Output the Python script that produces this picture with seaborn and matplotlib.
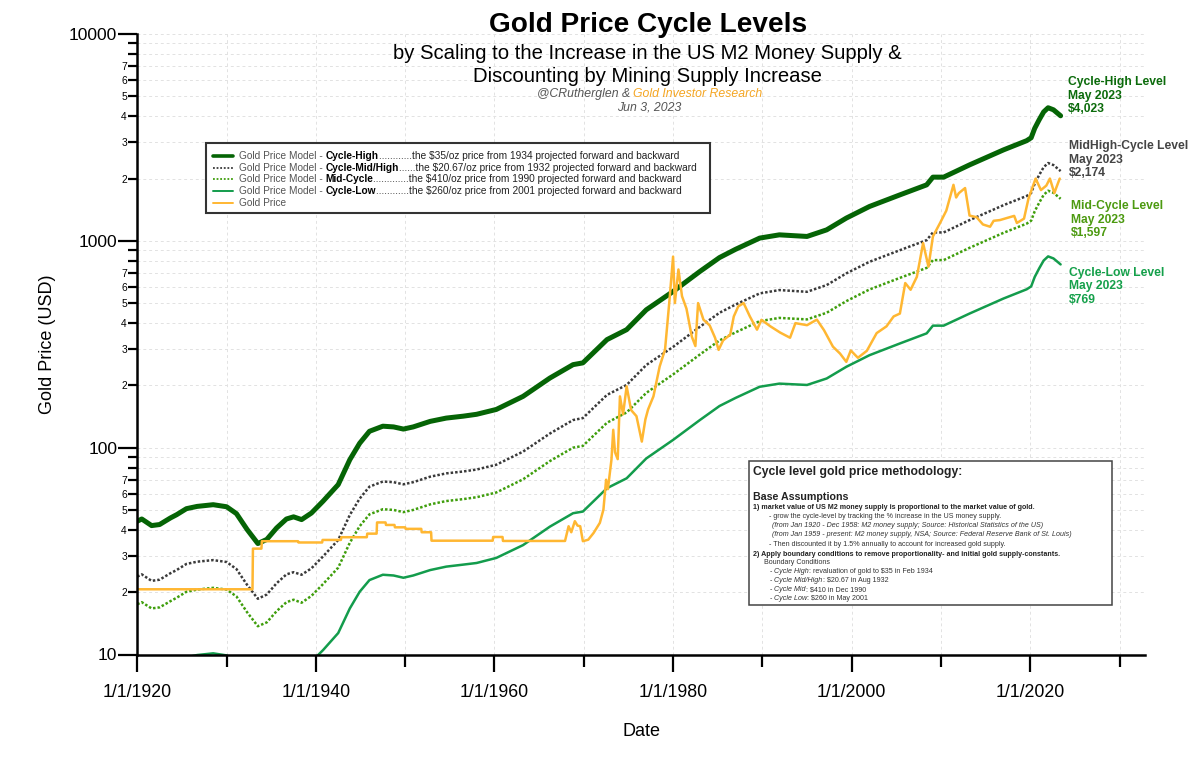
import matplotlib
matplotlib.use("Agg")
import matplotlib.pyplot as plt
import numpy as np
import pandas as pd
import seaborn as sns
from matplotlib.lines import Line2D
from matplotlib.patches import Rectangle
from matplotlib.ticker import FixedLocator, FuncFormatter

# ---------------- data ----------------
model_years = [1920.0, 1920.5, 1921.6, 1922.5, 1923.7, 1924.4, 1925.5, 1926.7, 1928.5, 1930.0,
               1931.1, 1932.3, 1933.5, 1934.5, 1935.6, 1936.7, 1937.5, 1938.4, 1939.5, 1940.8,
               1942.5, 1943.8, 1944.9, 1946.0, 1947.5, 1948.7, 1949.8, 1950.9, 1952.8, 1954.6,
               1956.5, 1958.0, 1960.2, 1963.2, 1966.2, 1968.8, 1969.9, 1972.6, 1974.8, 1977.0,
               1980.0, 1983.0, 1985.2, 1987.0, 1989.7, 1991.9, 1995.0, 1997.2, 1999.4, 2002.0,
               2005.4, 2008.4, 2009.1, 2010.3, 2013.2, 2017.0, 2019.6, 2020.1, 2020.5, 2021.0,
               2021.5, 2022.0, 2022.6, 2023.4]

cycle_high = [44.1, 45.2, 42.0, 42.5, 45.7, 47.4, 50.7, 52.0, 53.0, 51.8,
              48.0, 40.2, 34.4, 36.0, 40.9, 45.2, 46.3, 44.9, 48.3, 55.1,
              66.3, 87.5, 105, 120, 127, 126, 123, 126, 134, 139,
              142, 145, 153, 177, 217, 252, 257, 333, 372, 464,
              569, 711, 830, 910, 1031, 1069, 1050, 1130, 1288, 1466,
              1668, 1865, 2032, 2032, 2329, 2752, 3050, 3150, 3500, 3850,
              4200, 4400, 4300, 4023]

cycle_midhigh = [23.8, 24.4, 22.7, 23.0, 24.7, 25.6, 27.4, 28.1, 28.6, 28.0,
                 25.9, 21.7, 18.6, 19.5, 22.1, 24.4, 25.0, 24.3, 26.1, 29.8,
                 35.8, 47.3, 56.7, 64.8, 68.6, 68.1, 66.5, 68.1, 72.4, 75.1,
                 76.7, 78.4, 82.7, 95.7, 117, 136, 139, 180, 201, 251,
                 307, 384, 449, 492, 557, 578, 567, 611, 696, 792,
                 901, 1008, 1098, 1098, 1259, 1487, 1648, 1702, 1891, 2081,
                 2270, 2378, 2324, 2174]

cycle_mid = [17.5, 17.9, 16.7, 16.9, 18.1, 18.8, 20.1, 20.6, 21.0, 20.6,
             19.1, 16.0, 13.7, 14.3, 16.2, 17.9, 18.4, 17.8, 19.2, 21.9,
             26.3, 34.7, 41.7, 47.6, 50.4, 50.0, 48.8, 50.0, 53.2, 55.2,
             56.4, 57.6, 60.7, 70.3, 86.1, 100, 102, 132, 148, 184,
             226, 282, 330, 361, 409, 424, 417, 449, 511, 582,
             662, 740, 807, 807, 925, 1093, 1211, 1251, 1390, 1528,
             1667, 1747, 1707, 1597]

cycle_low = [8.43, 8.64, 8.03, 8.13, 8.74, 9.06, 9.69, 9.94, 10.13, 9.90,
             9.18, 7.69, 6.58, 6.88, 7.82, 8.64, 8.85, 8.58, 9.23, 10.5,
             12.7, 16.7, 20.1, 22.9, 24.3, 24.1, 23.5, 24.1, 25.6, 26.6,
             27.2, 27.7, 29.3, 33.8, 41.5, 48.2, 49.1, 63.7, 71.1, 88.7,
             109, 136, 159, 174, 197, 204, 201, 216, 246, 280,
             319, 357, 389, 389, 445, 526, 583, 602, 669, 736,
             803, 841, 822, 769]

gold_years = [1920.0, 1932.9, 1932.95, 1933.9, 1933.95, 1938.0, 1938.05, 1940.7, 1940.75, 1942.8,
              1942.85, 1945.7, 1945.75, 1946.8, 1946.85, 1947.8, 1947.85, 1948.8, 1948.85, 1950.0,
              1950.05, 1951.8, 1951.85, 1952.9, 1952.95, 1959.8, 1959.85, 1960.9, 1960.95, 1967.9,
              1968.3, 1968.6, 1969.0, 1969.3, 1969.6, 1969.9, 1970.5, 1971.1, 1971.8, 1972.2,
              1972.5, 1972.7, 1973.1, 1973.3, 1973.5, 1973.8, 1974.05, 1974.4, 1974.8, 1975.3,
              1975.9, 1976.5, 1976.9, 1977.2, 1977.8, 1978.5, 1979.1, 1979.6, 1980.0, 1980.2,
              1980.6, 1981.0, 1981.5, 1982.1, 1982.5, 1982.8, 1983.4, 1984.1, 1984.7, 1985.1,
              1985.6, 1986.4, 1986.8, 1987.3, 1987.9, 1988.6, 1989.4, 1989.9, 1990.9, 1992.0,
              1993.1, 1993.7, 1995.0, 1996.1, 1996.9, 1997.9, 1998.7, 1999.4, 1999.9, 2000.7,
              2001.7, 2002.8, 2003.9, 2004.7, 2005.4, 2006.0, 2006.6, 2007.3, 2008.0, 2008.6,
              2009.1, 2009.9, 2010.6, 2011.4, 2011.7, 2012.0, 2012.7, 2013.2, 2014.0, 2014.7,
              2015.5, 2015.9, 2016.6, 2017.4, 2018.2, 2018.5, 2019.3, 2019.8, 2020.6, 2021.2,
              2021.8, 2022.2, 2022.7, 2022.9, 2023.3]

gold_price = [20.67, 20.67, 32.5, 32.5, 35.3, 35.3, 34.8, 34.8, 35.8, 35.8,
              36.9, 36.9, 38.4, 38.4, 43.5, 43.5, 42.3, 42.3, 41.2, 41.2,
              40.5, 40.5, 39.0, 39.0, 35.5, 35.5, 37.0, 37.0, 35.4, 35.4,
              41.7, 39.0, 44.1, 42.0, 41.7, 35.3, 35.9, 38.7, 43.3, 50.2,
              70.0, 63.0, 87.5, 122, 95, 88, 177, 145, 198, 152,
              142, 107, 137, 153, 177, 247, 298, 518, 839, 500,
              727, 540, 470, 344, 310, 500, 416, 390, 340, 297,
              330, 352, 431, 482, 500, 431, 372, 415, 386, 360,
              340, 400, 391, 416, 370, 308, 285, 260, 295, 272,
              294, 358, 386, 431, 445, 625, 580, 670, 975, 750,
              1050, 1220, 1400, 1865, 1620, 1700, 1800, 1325, 1300, 1200,
              1170, 1250, 1260, 1290, 1320, 1220, 1280, 1600, 2000, 1760,
              1850, 2000, 1700, 1800, 2000]

x_major = [1920, 1940, 1960, 1980, 2000, 2020]
x_major_labels = ["1/1/1920", "1/1/1940", "1/1/1960", "1/1/1980", "1/1/2000", "1/1/2020"]
x_minor = [1930, 1950, 1970, 1990, 2010, 2030]
y_major = [10, 100, 1000, 10000]
y_minor_mult = [2, 3, 4, 5, 6, 7, 8, 9]
y_minor_labelled = [2, 3, 4, 5, 6, 7]

legend_bold = ["Cycle-High", "Cycle-Mid/High", "Mid-Cycle", "Cycle-Low"]
legend_tail = ["............the $35/oz price from 1934 projected forward and backward",
               "......the $20.67/oz price from 1932 projected forward and backward",
               ".............the $410/oz price from 1990 projected forward and backward",
               "............the $260/oz price from 2001 projected forward and backward"]

end_labels = [("Cycle-High Level", "May 2023", "$4,023"),
              ("MidHigh-Cycle Level", "May 2023", "$2,174"),
              ("Mid-Cycle Level", "May 2023", "$1,597"),
              ("Cycle-Low Level", "May 2023", "$769")]

# ---------------- style ----------------
sns.set_style("ticks")
plt.rcParams["font.family"] = ["Liberation Sans", "DejaVu Sans"]
plt.rcParams["text.parse_math"] = False

W, H = 1200, 758
fig = plt.figure(figsize=(12, 7.58), dpi=100)
fig.patch.set_facecolor("white")
ax = fig.add_axes([137.3 / W, 1 - 654.5 / H, (1145 - 137.3) / W, 620.5 / H])


def fy(py):
    return 1 - py / H


C_HIGH = "#056405"
C_MIDHIGH = "#3a3a3a"
C_MID = "#3f9e0c"
C_LOW = "#139c4c"
C_GOLD = "#ffb732"
DOT = (0, (1, 0.8))

styles = [
    (cycle_high, C_HIGH, 3.6, "-"),
    (cycle_midhigh, C_MIDHIGH, 1.8, DOT),
    (cycle_mid, C_MID, 1.8, DOT),
    (cycle_low, C_LOW, 1.8, "-"),
]
for vals, col, lw, ls in styles:
    df = pd.DataFrame({"year": model_years, "price": vals})
    sns.lineplot(data=df, x="year", y="price", ax=ax, estimator=None, sort=False,
                 color=col, linewidth=lw, linestyle=ls)

gdf = pd.DataFrame({"year": gold_years, "price": gold_price})
sns.lineplot(data=gdf, x="year", y="price", ax=ax, estimator=None, sort=False,
             color=C_GOLD, linewidth=1.8, linestyle="-")

ax.set_yscale("log")
ax.set_ylim(10, 10000)
ax.set_xlim(1920, 2032.85)

ax.yaxis.set_major_locator(FixedLocator(y_major))
ax.yaxis.set_major_formatter(FuncFormatter(lambda v, p: f"{v:.0f}"))
minor_locs = [m * 10 ** e for e in (1, 2, 3) for m in y_minor_mult]
ax.yaxis.set_minor_locator(FixedLocator(minor_locs))


def minor_fmt(v, p):
    m = int(round(v / 10 ** np.floor(np.log10(v) + 1e-9)))
    return str(m) if m in y_minor_labelled else ""


ax.yaxis.set_minor_formatter(FuncFormatter(minor_fmt))

ax.set_xticks(x_major)
ax.set_xticklabels(x_major_labels)
ax.set_xticks(x_minor, minor=True)

ax.set_axisbelow(True)
ax.grid(True, which="both", axis="both", color="#e2e2e2", linestyle=(0, (3, 3)), linewidth=0.7)

for s in ["top", "right"]:
    ax.spines[s].set_visible(False)
for s in ["left", "bottom"]:
    ax.spines[s].set_linewidth(1.8)
    ax.spines[s].set_color("black")

ax.tick_params(axis="x", which="major", direction="out", length=12.2, width=1.6, pad=8.8,
               labelsize=12.8, color="black", labelcolor="black", bottom=True)
ax.tick_params(axis="x", which="minor", direction="out", length=8.6, width=1.6, color="black", bottom=True)
ax.tick_params(axis="y", which="major", direction="out", length=13.7, width=1.6, pad=0.7,
               labelsize=12.6, color="black", labelcolor="black", left=True)
ax.tick_params(axis="y", which="minor", direction="out", length=6.5, width=1.6, pad=1.0,
               labelsize=7.4, color="black", labelcolor="black", left=True)

ax.set_xlabel("Date", fontsize=13, va="center", color="black")
ax.xaxis.set_label_coords(0.5, -(732 - 654.5) / 620.5)
ax.set_ylabel("Gold Price (USD)", fontsize=13, va="center", color="black")
ax.yaxis.set_label_coords((47 - 137.3) / 1007.7, 0.5)

renderer = fig.canvas.get_renderer()


def place_runs(x, y, runs, ha="left", va="center", zorder=6):
    items = []
    for s, props, gap in runs:
        t = fig.text(0, 0, s, ha="left", va=va, zorder=zorder, **props)
        w = t.get_window_extent(renderer=renderer).width
        items.append((t, w, gap))
    total = sum(w + g for _, w, g in items)
    cur = x - (total / 2 if ha == "center" else 0)
    for t, w, g in items:
        cur += g
        t.set_position((cur / W, fy(y)))
        cur += w


def sp(size):
    return 0.278 * size * 100 / 72


# ---------------- titles ----------------
fig.text(648 / W, fy(31.7), "Gold Price Cycle Levels", ha="center", va="baseline",
         fontsize=20.2, fontweight="bold", color="black")
fig.text(647 / W, fy(59.3), "by Scaling to the Increase in the US M2 Money Supply &",
         ha="center", va="baseline", fontsize=14.6, color="black")
fig.text(647 / W, fy(81.7), "Discounting by Mining Supply Increase",
         ha="center", va="baseline", fontsize=14.6, color="black")
place_runs(649.5, 96.7, [("@CRutherglen &", dict(fontsize=8.8, style="italic", color="#555555"), 0),
                         ("Gold Investor Research", dict(fontsize=8.8, style="italic", color="#f5a623"), sp(8.8))],
           ha="center", va="baseline")
fig.text(649.5 / W, fy(110), "Jun 3, 2023", ha="center", va="baseline",
         fontsize=8.8, style="italic", color="#555555")

# ---------------- legend box ----------------
fig.add_artist(Rectangle((206 / W, fy(212.7)), (710 - 206) / W, (212.7 - 143.3) / H,
                         transform=fig.transFigure, facecolor="white", edgecolor="#333333",
                         linewidth=1.5, zorder=5))
leg_handles = [(C_HIGH, 2.6, "-"), (C_MIDHIGH, 1.3, (0, (1, 1))), (C_MID, 1.3, (0, (1, 1))),
               (C_LOW, 1.4, "-"), (C_GOLD, 1.4, "-")]
leg_y = [156.0, 167.7, 179.4, 191.1, 202.8]
LF = 7.3
for i, (col, lw, ls) in enumerate(leg_handles):
    fig.add_artist(Line2D([213.3 / W, 233.3 / W], [fy(leg_y[i])] * 2, transform=fig.transFigure,
                          color=col, linewidth=lw, linestyle=ls, zorder=6))
    if i < 4:
        place_runs(239, leg_y[i], [
            ("Gold Price Model -", dict(fontsize=LF, color="#555555"), 0),
            (legend_bold[i], dict(fontsize=LF, color="black", fontweight="bold"), sp(LF)),
            (legend_tail[i], dict(fontsize=LF, color="#222222"), 0),
        ])
    else:
        place_runs(239, leg_y[i], [("Gold Price", dict(fontsize=LF, color="#555555"), 0)])

# ---------------- methodology box ----------------
fig.add_artist(Rectangle((749.3 / W, fy(605)), (1111.7 - 749.3) / W, (605 - 461) / H,
                         transform=fig.transFigure, facecolor="white", edgecolor="#444444",
                         linewidth=1.1, zorder=5))
MF = 5.1
reg = dict(fontsize=MF, color="#333333")
bold = dict(fontsize=MF, color="#222222", fontweight="bold")
ital = dict(fontsize=MF, color="#333333", style="italic")
place_runs(752.7, 471.7, [("Cycle level gold price methodology:",
                           dict(fontsize=8.75, color="#222222", fontweight="bold"), 0)])
place_runs(752.7, 497.3, [("Base Assumptions", dict(fontsize=7.7, color="#222222", fontweight="bold"), 0)])
place_runs(752.7, 507.7, [("1) market value of US M2 money supply is proportional to the market value of gold.", bold, 0)])
place_runs(769.3, 516.0, [("- grow the cycle-level by tracking the % increase in the US money supply.", reg, 0)])
place_runs(771.7, 525.7, [("(from Jan 1920 - Dec 1958: M2 money supply; Source: Historical Statistics of the US)", ital, 0)])
place_runs(771.7, 535.0, [("(from Jan 1959 - present: M2 money supply, NSA; Source: Federal Reserve Bank of St. Louis)", ital, 0)])
place_runs(769.3, 544.0, [("- Then discounted it by 1.5% annually to account for increased gold supply.", reg, 0)])
place_runs(752.7, 554.0, [("2) Apply boundary conditions to remove proportionality- and initial gold supply-constants.", bold, 0)])
place_runs(764.0, 562.7, [("Boundary Conditions", reg, 0)])
bc = [("Cycle High", ": revaluation of gold to $35 in Feb 1934"),
      ("Cycle Mid/High", ": $20.67 in Aug 1932"),
      ("Cycle Mid", ": $410 in Dec 1990"),
      ("Cycle Low", ": $260 in May 2001")]
for (nm, rest), yy in zip(bc, [571.7, 581.0, 589.7, 599.0]):
    place_runs(770.0, yy, [("-", reg, 0), (nm, ital, sp(MF)), (rest, reg, 0)])

# ---------------- end-of-line labels ----------------
lab_cols = ["#0b6b0b", "#444444", "#4c9a10", "#14a04a"]
lab_x = [1068, 1069, 1071, 1068.7]
lab_y = [(82.3, 95.8, 109.3), (146, 159.5, 173), (206, 219.6, 233.2), (272.7, 286.3, 299.9)]
for lines, col, xx, ys in zip(end_labels, lab_cols, lab_x, lab_y):
    for s, yy in zip(lines, ys):
        fig.text(xx / W, fy(yy), s, ha="left", va="center", fontsize=8.7,
                 fontweight="bold", color=col)

fig.savefig("out.png", dpi=100, facecolor="white")
